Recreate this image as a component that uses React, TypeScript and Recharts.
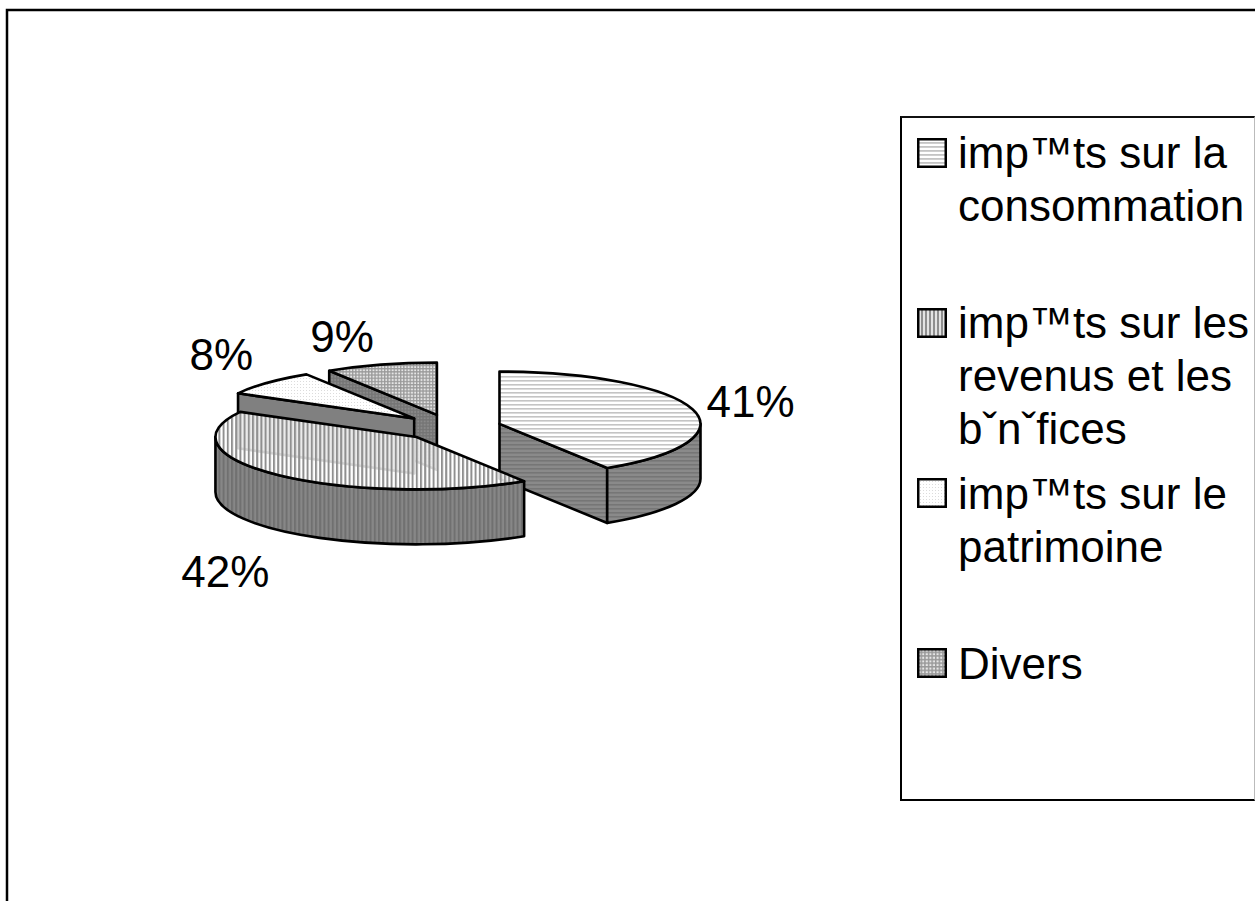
import React from 'react';
import { PieChart, Pie, Legend } from 'recharts';

// ---- data, legend order ----
const categories = ['imp™ts sur la consommation', 'imp™ts sur les revenus et les bˇnˇfices', 'imp™ts sur le patrimoine', 'Divers'];
const shares = [41, 42, 8, 9];

// ---- styles ----
const topPatterns = ['topHoriz', 'topVert', 'topDots', 'topGrid'];
const wallPatterns = ['wallHoriz', 'wallVert', 'wallDots', 'wallGrid'];
const swatchPatterns = ['swatchHoriz', 'swatchVert', 'topDots', 'swatchGrid'];
const labelNudge = [[-3, 1], [-10, 16], [0, -5], [-21, 5]];

// the pie is painted back to front: 41, 9, 8, 42 going counter-clockwise
const paintOrder = [0, 3, 2, 1];
const pieData = paintOrder.map((i) => ({
  name: categories[i],
  value: shares[i],
  legendIndex: i,
}));

const WIDTH = 1255;
const HEIGHT = 901;
const FONT = '"Liberation Sans", Arial, sans-serif';
const CX = 451;
const CY = 427.5;
const RADIUS = 201;
const TILT = 0.26;
const DEPTH = 55;
const EXPLODE = 50.5;
const STROKE = 2.6;
const START = 90 - shares[0] * 3.6;
const RAD = Math.PI / 180;

function pt(x0: number, y0: number, r: number, a: number) {
  return [x0 + r * Math.cos(a * RAD), y0 - r * TILT * Math.sin(a * RAD)];
}

function Slice3D(props: any) {
  const { cx, cy, outerRadius: r, startAngle: s, endAngle: e, midAngle, payload } = props;
  const idx = payload?.legendIndex ?? props.legendIndex;
  const [x0, y0] = pt(cx, cy, EXPLODE, midAngle);
  const ry = r * TILT;
  const [sx, sy] = pt(x0, y0, r, s);
  const [ex, ey] = pt(x0, y0, r, e);
  const large = e - s > 180 ? 1 : 0;
  const top = `M${x0},${y0} L${sx},${sy} A${r},${ry} 0 ${large} 0 ${ex},${ey} Z`;
  const walls: string[] = [];
  if (Math.cos(s * RAD) > 1e-6) {
    walls.push(`M${x0},${y0} L${sx},${sy} L${sx},${sy + DEPTH} L${x0},${y0 + DEPTH} Z`);
  }
  if (Math.cos(e * RAD) < -1e-6) {
    walls.push(`M${x0},${y0} L${ex},${ey} L${ex},${ey + DEPTH} L${x0},${y0 + DEPTH} Z`);
  }
  for (const k of [-360, 0, 360]) {
    const a = Math.max(s, 180 + k);
    const b = Math.min(e, 360 + k);
    if (b > a) {
      const [ax, ay] = pt(x0, y0, r, a);
      const [bx, by] = pt(x0, y0, r, b);
      walls.push(
        `M${ax},${ay} A${r},${ry} 0 0 0 ${bx},${by} L${bx},${by + DEPTH} A${r},${ry} 0 0 1 ${ax},${ay + DEPTH} Z`
      );
    }
  }
  return (
    <g>
      {walls.map((d, i) => (
        <path key={i} d={d} fill={`url(#${wallPatterns[idx]})`} stroke="#000" strokeWidth={STROKE} strokeLinejoin="round" />
      ))}
      <path d={top} fill={`url(#${topPatterns[idx]})`} stroke="#000" strokeWidth={STROKE} strokeLinejoin="round" />
    </g>
  );
}

function SliceLabel(props: any) {
  const { cx, cy, midAngle, percent, payload } = props;
  const idx = payload?.legendIndex ?? props.legendIndex;
  const c = Math.cos(midAngle * RAD);
  const sn = Math.sin(midAngle * RAD);
  const x = cx + 315 * c + labelNudge[idx][0];
  const y = cy - 100 * sn + (sn < 0 ? DEPTH : 0) + labelNudge[idx][1];
  return (
    <text x={x} y={y + 16} textAnchor="middle" fontFamily={FONT} fontSize={44} fill="#000">
      {`${Math.round(percent * 100)}%`}
    </text>
  );
}

function LegendBox() {
  return (
    <div
      style={{
        position: 'absolute',
        left: 900,
        top: 116,
        width: 355,
        height: 685,
        boxSizing: 'border-box',
        borderTop: '2px solid #111',
        borderLeft: '2px solid #000',
        borderBottom: '2.5px solid #000',
        borderRight: '1px solid #bbb',
        fontFamily: FONT,
        fontSize: 44,
        lineHeight: '53px',
        color: '#000',
        background: '#fff',
      }}
    >
      {categories.map((name, i) => (
        <div key={name} style={{ position: 'absolute', left: 0, top: 8 + i * 170.3, width: 353 }}>
          <svg width={30} height={30} style={{ position: 'absolute', left: 15, top: 11.5 }}>
            <rect x={1.25} y={1.25} width={27.5} height={27.5} fill={`url(#${swatchPatterns[i]})`} stroke="#000" strokeWidth={2.5} />
          </svg>
          <div style={{ position: 'absolute', left: 56, top: 0, width: 297, textAlign: 'left' }}>{name}</div>
        </div>
      ))}
    </div>
  );
}

function Patterns() {
  return (
    <defs>
      <pattern id="topHoriz" width={4} height={4} patternUnits="userSpaceOnUse">
        <rect width={4} height={4} fill="#fff" />
        <rect y={0} width={4} height={1.6} fill="#c4c4c4" />
      </pattern>
      <pattern id="swatchHoriz" width={4} height={4} patternUnits="userSpaceOnUse">
        <rect width={4} height={4} fill="#fff" />
        <rect y={0} width={4} height={1.8} fill="#c4c4c4" />
      </pattern>
      <pattern id="topVert" width={4.2} height={4} patternUnits="userSpaceOnUse">
        <rect width={4.2} height={4} fill="#fff" fillOpacity={0.84} />
        <rect x={0} width={2} height={4} fill="#8f8f8f" />
      </pattern>
      <pattern id="swatchVert" width={4} height={4} patternUnits="userSpaceOnUse">
        <rect width={4} height={4} fill="#e4e4e4" />
        <rect x={0} width={2} height={4} fill="#8f8f8f" />
      </pattern>
      <pattern id="topDots" width={3} height={3} patternUnits="userSpaceOnUse">
        <rect width={3} height={3} fill="#fff" />
        <rect width={1} height={1} fill="#dcdcdc" />
      </pattern>
      <pattern id="topGrid" width={3.2} height={3.2} patternUnits="userSpaceOnUse">
        <rect width={3.2} height={3.2} fill="#e6e6e6" />
        <rect width={1.3} height={3.2} fill="#9a9a9a" />
        <rect width={3.2} height={1.3} fill="#9a9a9a" />
      </pattern>
      <pattern id="swatchGrid" width={3.6} height={3.6} patternUnits="userSpaceOnUse">
        <rect width={3.6} height={3.6} fill="#e6e6e6" />
        <rect width={1.5} height={3.6} fill="#999" />
        <rect width={3.6} height={1.5} fill="#999" />
      </pattern>
      <pattern id="wallHoriz" width={4} height={4} patternUnits="userSpaceOnUse">
        <rect width={4} height={4} fill="#8a8a8a" />
        <rect width={4} height={1.6} fill="#767676" />
      </pattern>
      <pattern id="wallVert" width={4.2} height={4} patternUnits="userSpaceOnUse">
        <rect width={4.2} height={4} fill="#878787" />
        <rect width={2} height={4} fill="#707070" />
      </pattern>
      <pattern id="wallDots" width={3} height={3} patternUnits="userSpaceOnUse">
        <rect width={3} height={3} fill="#808080" />
      </pattern>
      <pattern id="wallGrid" width={3.2} height={3.2} patternUnits="userSpaceOnUse">
        <rect width={3.2} height={3.2} fill="#8a8a8a" />
        <rect width={1.3} height={3.2} fill="#747474" />
        <rect width={3.2} height={1.3} fill="#747474" />
      </pattern>
    </defs>
  );
}

export default function App() {
  const renderSlice = (p: any) => <Slice3D {...p} />;
  return (
    <div style={{ position: 'absolute', left: 0, top: 0, width: WIDTH, height: HEIGHT, overflow: 'hidden', background: '#fff' }}>
      <PieChart width={WIDTH} height={HEIGHT} margin={{ top: 0, right: 0, bottom: 0, left: 0 }}>
        <Patterns />
        <rect x={7} y={10} width={WIDTH + 50} height={HEIGHT + 50} fill="none" stroke="#000" strokeWidth={2.5} />
        <Pie
          data={pieData}
          dataKey="value"
          nameKey="name"
          cx={CX}
          cy={CY}
          innerRadius={0}
          outerRadius={RADIUS}
          startAngle={START}
          endAngle={START + 360}
          paddingAngle={0}
          stroke="none"
          shape={renderSlice}
          inactiveShape={renderSlice}
          activeShape={renderSlice}
          label={(p: any) => <SliceLabel {...p} />}
          labelLine={false}
          isAnimationActive={false}
        />
        <Legend
          content={() => <LegendBox />}
          wrapperStyle={{ position: 'absolute', left: 0, top: 0, width: WIDTH, height: HEIGHT, pointerEvents: 'none' }}
        />
      </PieChart>
    </div>
  );
}
